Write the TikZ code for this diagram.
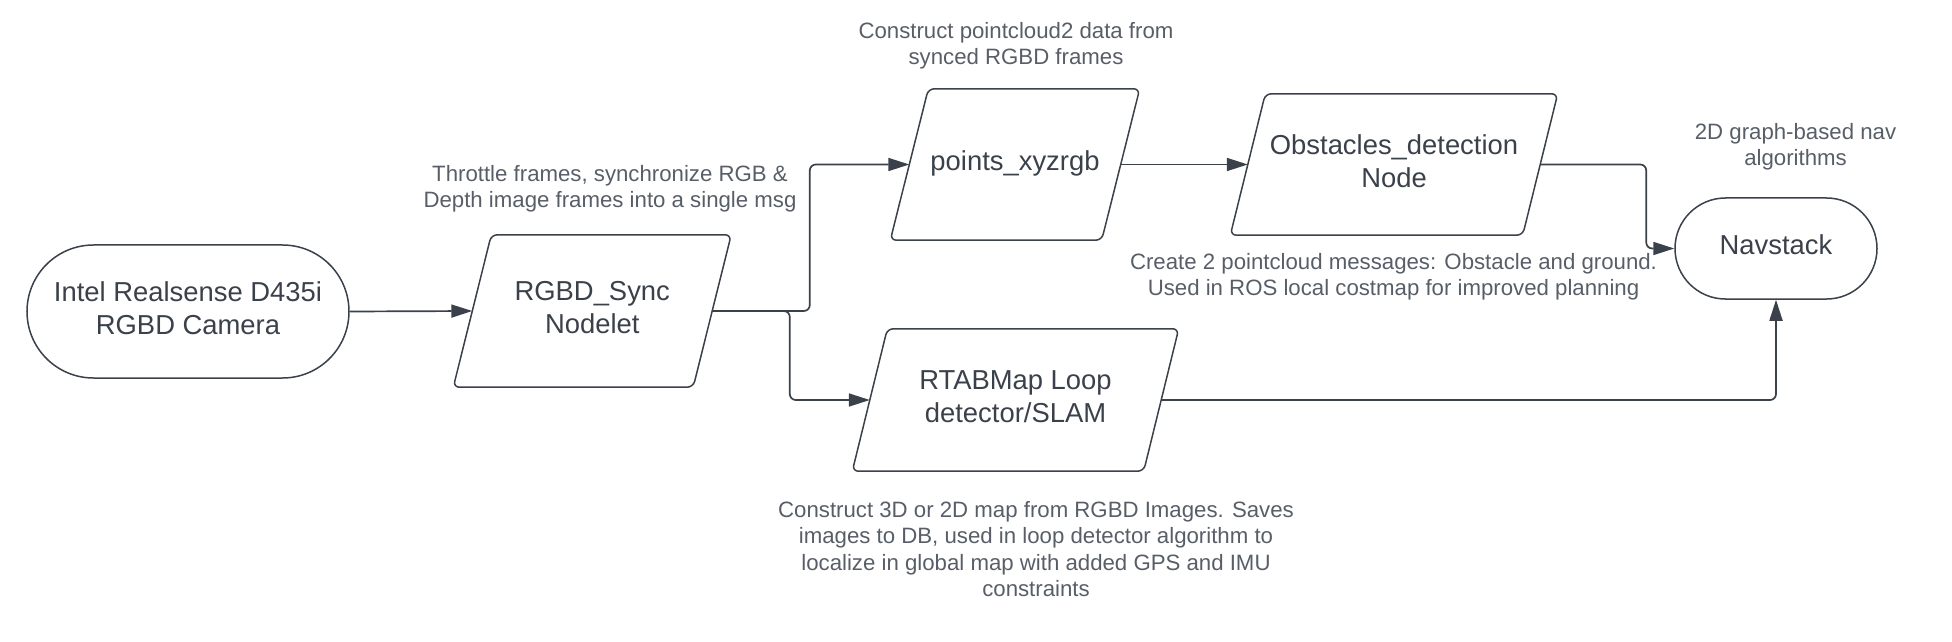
\documentclass[tikz,border=0pt]{standalone}
\usepackage{fontspec}
\setmainfont{Liberation Sans}
\usetikzlibrary{arrows.meta}
\definecolor{ln}{HTML}{3A414A}
\definecolor{nodetext}{HTML}{3A414A}
\definecolor{labeltext}{HTML}{585E67}
\tikzset{
  boxline/.style={draw=ln, line width=1.5bp, rounded corners=6bp},
  para/.style={draw=none, inner sep=0pt, align=center, text=nodetext, text depth=7bp,
    font=\fontsize{27.5}{33.5}\selectfont},
  term/.style={draw=ln, line width=1.5bp, inner sep=0pt, align=center, text=nodetext, text depth=7bp,
    font=\fontsize{27.5}{33.5}\selectfont},
  lbl/.style={inner sep=0pt, align=center, text=labeltext,
    font=\fontsize{22.3}{26.6}\selectfont},
  conn/.style={draw=ln, line width=1.7bp, rounded corners=6bp,
    -{Triangle[length=21bp,width=13bp]}},
}
\newcommand\parabox[2]{\draw[boxline] ([xshift=#2]#1.north west) -- ([xshift=#2]#1.north east) -- ([xshift=-#2]#1.south east) -- ([xshift=-#2]#1.south west) -- cycle;}
\begin{document}
\begin{tikzpicture}[x=1bp,y=-1bp]
\useasboundingbox (0,0) rectangle (1952,642);
% terminators
\node[term, minimum width=322bp, minimum height=133bp, rounded corners=66.5bp] (cam) at (188,311.5) {Intel Realsense D435i\\RGBD Camera};
\node[term, minimum width=202bp, minimum height=101bp, rounded corners=50.5bp] (nav) at (1776,248.5) {Navstack};
% parallelograms
\node[para, minimum width=239.5bp, minimum height=152bp] (sync) at (592.25,311) {RGBD\_Sync\\Nodelet};
\parabox{sync}{19bp}
\node[para, minimum width=211bp, minimum height=151bp] (pts) at (1015,164.5) {points\_xyzrgb};
\parabox{pts}{19bp}
\node[para, minimum width=292bp, minimum height=141bp] (obs) at (1394,164.5) {Obstacles\_detection\\Node};
\parabox{obs}{17.5bp}
\node[para, minimum width=291bp, minimum height=142bp] (rtab) at (1015.5,400) {RTABMap Loop\\detector/SLAM};
\parabox{rtab}{17.5bp}
% labels
\node[lbl] (l1) at (610,189) {Throttle frames, synchronize RGB \&\\Depth image frames into a single msg};
\node[lbl] (l2) at (1016,46) {Construct pointcloud2 data from\\synced RGBD frames};
\node[lbl] (l3) at (1393.5,277) {Create 2 pointcloud messages: Obstacle and ground.\\Used in ROS local costmap for improved planning};
\node[lbl] (l4) at (1795.5,147) {2D graph-based nav\\algorithms};
\node[lbl] (l5) at (1036,549) {Construct 3D or 2D map from RGBD Images. Saves\\images to DB, used in loop detector algorithm to\\localize in global map with added GPS and IMU\\constraints};
% connectors
\draw[conn] (cam.east) -- (sync.west);
\draw[conn] (sync.east) -| ([xshift=-99.5bp]pts.west) -- (pts.west);
\draw[conn] (sync.east) -| ([xshift=-80bp]rtab.west) -- (rtab.west);
\draw[conn] (pts.east) -- (obs.west);
\draw[conn] (obs.east) -| ([xshift=-28bp]nav.west) -- (nav.west);
\draw[conn] (rtab.east) -| (nav.south);
\end{tikzpicture}
\end{document}
